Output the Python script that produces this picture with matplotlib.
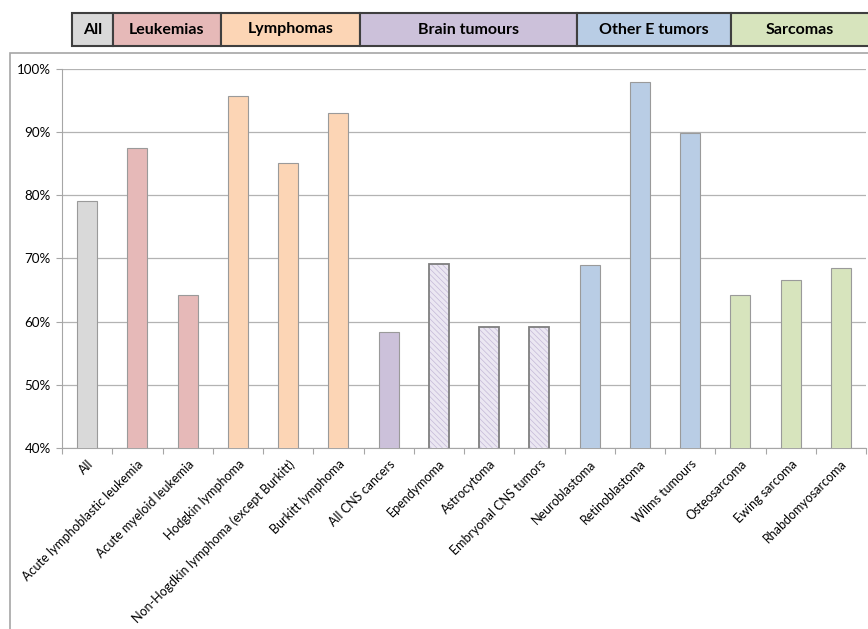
import matplotlib
matplotlib.use("Agg")
import matplotlib.pyplot as plt
from matplotlib.patches import Rectangle
from matplotlib.ticker import PercentFormatter

plt.rcParams['font.family'] = ['Lato', 'DejaVu Sans']
plt.rcParams['hatch.linewidth'] = 0.5

# datos
categorias = ["All", "Acute lymphoblastic leukemia", "Acute myeloid leukemia",
              "Hodgkin lymphoma", "Non-Hogdkin lymphoma (except Burkitt)",
              "Burkitt lymphoma", "All CNS cancers", "Ependymoma", "Astrocytoma",
              "Embryonal CNS tumors", "Neuroblastoma", "Retinoblastoma",
              "Wilms tumours", "Osteosarcoma", "Ewing sarcoma", "Rhabdomyosarcoma"]
valores = [79.1, 87.5, 64.3, 95.7, 85.1, 93.1, 58.3, 69.1, 59.2, 59.1,
           68.9, 97.9, 89.9, 64.3, 66.6, 68.5]
grupos = ["All", "Leukemias", "Leukemias", "Lymphomas", "Lymphomas", "Lymphomas",
          "Brain tumours", "Brain tumours", "Brain tumours", "Brain tumours",
          "Other E tumors", "Other E tumors", "Other E tumors",
          "Sarcomas", "Sarcomas", "Sarcomas"]
rayados = [False, False, False, False, False, False, False, True, True, True,
           False, False, False, False, False, False]

colores = {"All": "#d9d9d9", "Leukemias": "#e6b9b8", "Lymphomas": "#fcd5b5",
           "Brain tumours": "#ccc1da", "Other E tumors": "#b9cde5",
           "Sarcomas": "#d7e4bd"}

# cajas del encabezado (x inicio, x fin en pixeles)
encabezado = [("All", 72, 113), ("Leukemias", 113, 221), ("Lymphomas", 221, 360),
              ("Brain tumours", 360, 577), ("Other E tumors", 577, 731),
              ("Sarcomas", 731, 880)]

W, H = 868, 629
fig = plt.figure(figsize=(W / 100, H / 100), dpi=100)
ax = fig.add_axes([62 / W, 1 - 448 / H, (866 - 62) / W, (448 - 69) / H])

# marco del grafico (como en excel)
fig.patches.append(Rectangle((10 / W, -0.1), 1.2, 1 - 53 / H + 0.1,
                             transform=fig.transFigure, fill=False,
                             edgecolor="#a6a6a6", linewidth=1.2, zorder=0))

x = range(len(categorias))
for i in x:
    if rayados[i]:
        ax.bar(i, valores[i], width=0.4, color="#ebe7f2", edgecolor="#c4b9d8",
               linewidth=0, hatch="\\\\\\\\\\\\", zorder=3)
        ax.bar(i, valores[i], width=0.4, fill=False, edgecolor="#7f7f7f",
               linewidth=1.3, zorder=4)
    else:
        ax.bar(i, valores[i], width=0.4, color=colores[grupos[i]],
               edgecolor="#9a9a9a", linewidth=0.8, zorder=3)

ax.set_xlim(-0.5, len(categorias) - 0.5)
ax.set_ylim(40, 100)
ax.set_yticks(range(40, 101, 10))
ax.yaxis.set_major_formatter(PercentFormatter(xmax=100, decimals=0))
ax.yaxis.grid(True, color="#b3b3b3", linewidth=0.9, zorder=0)

ax.set_xticks([i - 0.5 for i in range(len(categorias) + 1)], minor=False)
ax.set_xticklabels([])
ax.set_xticks(list(x), minor=True)
ax.set_xticklabels(categorias, minor=True, rotation=45, ha="right",
                   rotation_mode="anchor", fontsize=9.0)
ax.tick_params(axis="x", which="minor", length=0, pad=7)
ax.tick_params(axis="x", which="major", length=4, color="#a6a6a6", direction="out")
ax.tick_params(axis="y", length=4, color="#a6a6a6", labelsize=9.6, pad=4)

for lado in ["top", "right"]:
    ax.spines[lado].set_visible(False)
ax.spines["left"].set_color("#a6a6a6")
ax.spines["bottom"].set_color("#a6a6a6")

# encabezado de grupos
for nombre, x0, x1 in encabezado:
    fig.patches.append(Rectangle((x0 / W, 1 - 46 / H), (x1 - x0) / W, 33 / H,
                                 transform=fig.transFigure,
                                 facecolor=colores[nombre], edgecolor="#3f3f3f",
                                 linewidth=1.5, zorder=5))
    xc = (x0 + x1) / 2 if nombre != "Sarcomas" else 800
    fig.text(xc / W, 1 - 29.5 / H, nombre, ha="center", va="center",
             fontsize=11.5, fontweight="bold", zorder=6)

fig.savefig("out.png", dpi=100)
